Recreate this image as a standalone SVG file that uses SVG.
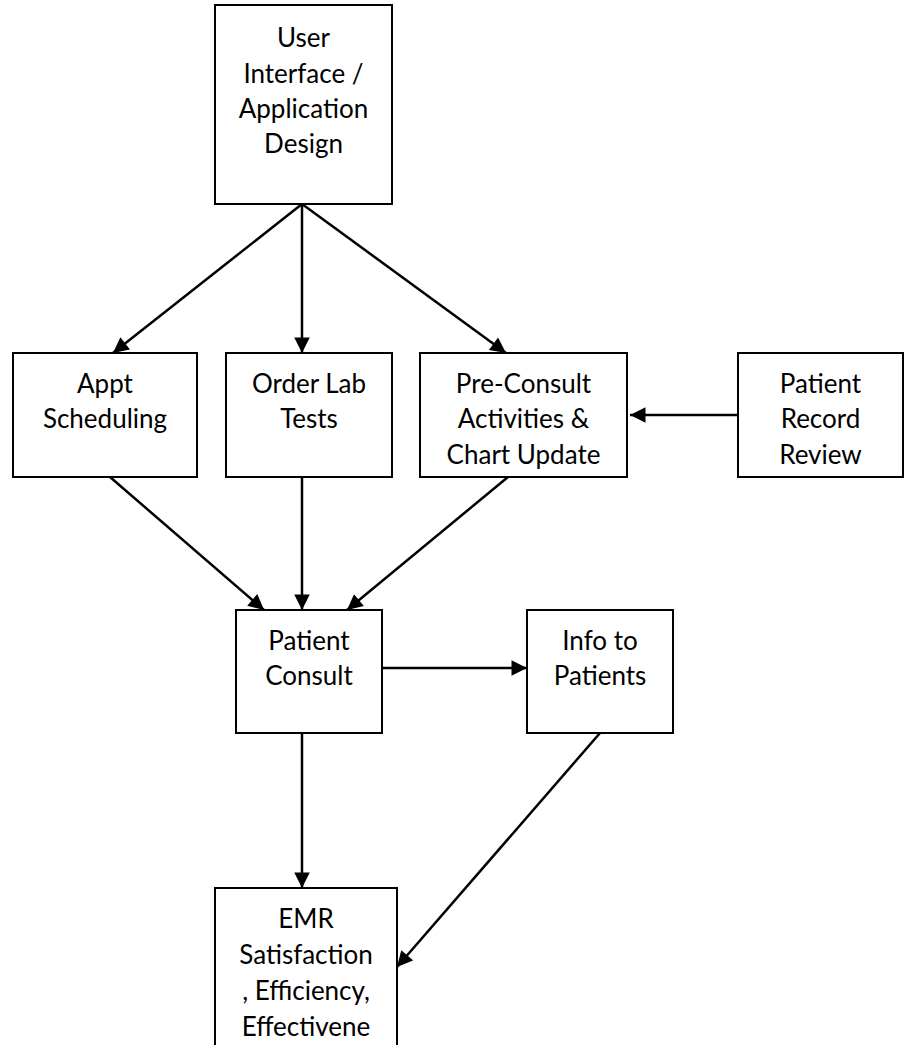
<svg xmlns="http://www.w3.org/2000/svg" width="908" height="1045" viewBox="0 0 908 1045">
  <style>
    .box { fill: #ffffff; stroke: #000000; stroke-width: 2; }
    .lbl { font-family: Lato, "Open Sans", "Liberation Sans", sans-serif; font-size: 26px; fill: #000000; text-anchor: middle; dominant-baseline: central; }
    .edge { stroke: #000000; stroke-width: 2.5; fill: none; marker-end: url(#arrow); }
  </style>
  <defs>
    <marker id="arrow" viewBox="0 0 10 10" refX="10" refY="5" markerWidth="6.8" markerHeight="6.2" markerUnits="strokeWidth" orient="auto">
      <path d="M0,0 L10,5 L0,10 Z" fill="#000000"/>
    </marker>
  </defs>

  <rect width="908" height="1045" fill="#ffffff"/>

  <g id="connectors">
    <line class="edge" x1="302" y1="204" x2="113" y2="353"/>
    <line class="edge" x1="302" y1="204" x2="302" y2="353"/>
    <line class="edge" x1="302" y1="204" x2="506" y2="353"/>
    <line class="edge" x1="738" y1="415" x2="630" y2="415"/>
    <line class="edge" x1="110" y1="477" x2="264" y2="610"/>
    <line class="edge" x1="302" y1="477" x2="302" y2="610"/>
    <line class="edge" x1="508" y1="477" x2="347" y2="610"/>
    <line class="edge" x1="382" y1="668" x2="527" y2="668"/>
    <line class="edge" x1="302" y1="733" x2="302" y2="888"/>
    <line class="edge" x1="600" y1="733" x2="397" y2="967"/>
  </g>

  <g id="ui-design">
    <rect class="box" x="215" y="5" width="177" height="199"/>
    <text class="lbl" x="303.5" y="37">User</text>
    <text class="lbl" x="303.5" y="73">Interface /</text>
    <text class="lbl" x="303.5" y="108">Application</text>
    <text class="lbl" x="303.5" y="143">Design</text>
  </g>

  <g id="appt-scheduling">
    <rect class="box" x="13" y="353" width="184" height="124"/>
    <text class="lbl" x="105" y="383">Appt</text>
    <text class="lbl" x="105" y="418">Scheduling</text>
  </g>

  <g id="order-lab-tests">
    <rect class="box" x="226" y="353" width="166" height="124"/>
    <text class="lbl" x="309" y="383">Order Lab</text>
    <text class="lbl" x="309" y="418">Tests</text>
  </g>

  <g id="pre-consult">
    <rect class="box" x="420" y="353" width="207" height="124"/>
    <text class="lbl" x="523.5" y="383">Pre-Consult</text>
    <text class="lbl" x="523.5" y="418">Activities &amp;</text>
    <text class="lbl" x="523.5" y="454">Chart Update</text>
  </g>

  <g id="patient-record-review">
    <rect class="box" x="738" y="353" width="165" height="124"/>
    <text class="lbl" x="820.5" y="383">Patient</text>
    <text class="lbl" x="820.5" y="418">Record</text>
    <text class="lbl" x="820.5" y="454">Review</text>
  </g>

  <g id="patient-consult">
    <rect class="box" x="236" y="610" width="146" height="123"/>
    <text class="lbl" x="309" y="640">Patient</text>
    <text class="lbl" x="309" y="675">Consult</text>
  </g>

  <g id="info-to-patients">
    <rect class="box" x="527" y="610" width="146" height="123"/>
    <text class="lbl" x="600" y="640">Info to</text>
    <text class="lbl" x="600" y="675">Patients</text>
  </g>

  <g id="emr-satisfaction">
    <rect class="box" x="215" y="888" width="182" height="170"/>
    <text class="lbl" x="306" y="918">EMR</text>
    <text class="lbl" x="306" y="954">Satisfaction</text>
    <text class="lbl" x="306" y="990">, Efficiency,</text>
    <text class="lbl" x="306" y="1026">Effectivene</text>
  </g>
</svg>
